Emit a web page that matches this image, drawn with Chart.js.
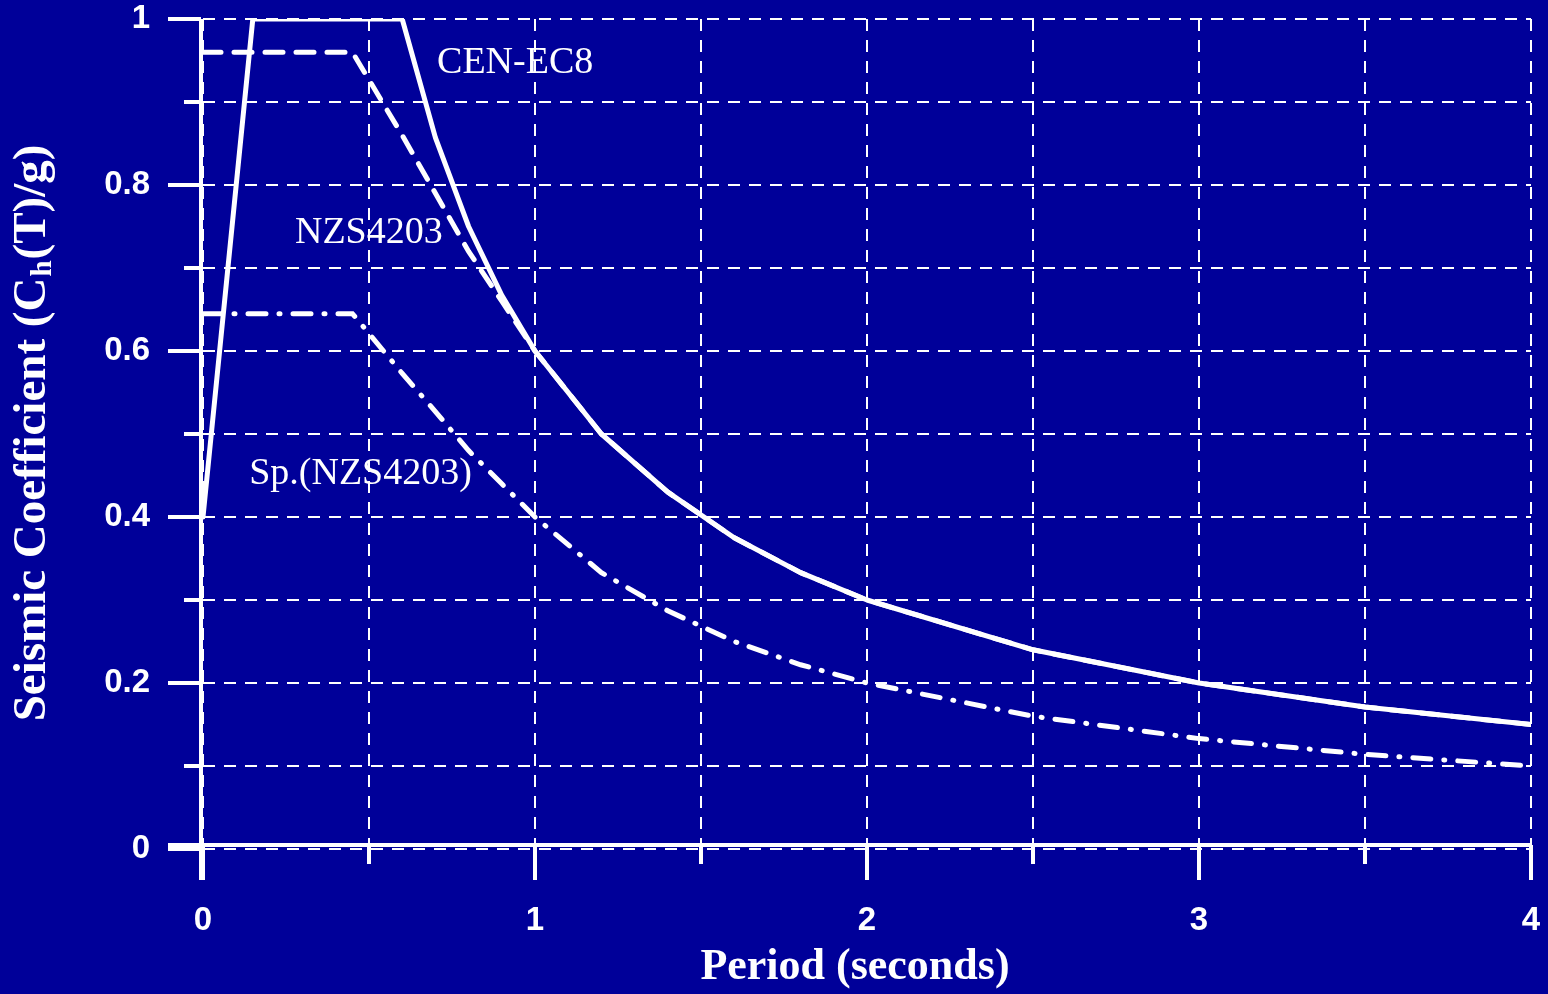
<!DOCTYPE html>
<html>
<head>
<meta charset="utf-8">
<script src="https://cdn.jsdelivr.net/npm/chart.js@4.4.1/dist/chart.umd.min.js"></script>
<style>
  html, body { margin: 0; padding: 0; background: #000099; }
  #wrap { width: 1548px; height: 994px; }
</style>
</head>
<body>
<div id="wrap"><canvas id="grafico"></canvas></div>
<script>
// periodo (s) e coeficiente sismico
const periodosCen = [0, 0.15, 0.6, 0.7, 0.8, 0.9, 1.0, 1.2, 1.4, 1.6, 1.8, 2.0, 2.5, 3.0, 3.5, 4.0];
const valoresCen = [0.4, 1.0, 1.0, 0.857, 0.75, 0.667, 0.6, 0.5, 0.43, 0.375, 0.333, 0.3, 0.24, 0.2, 0.171, 0.15];

const periodosNzs = [0, 0.45, 0.6, 0.7, 0.8, 0.9, 1.0, 1.2, 1.4, 1.6, 1.8, 2.0, 2.5, 3.0, 3.5, 4.0];
const valoresNzs = [0.96, 0.96, 0.86, 0.79, 0.72, 0.66, 0.6, 0.5, 0.43, 0.375, 0.333, 0.3, 0.24, 0.2, 0.171, 0.15];

const periodosSp = [0, 0.45, 0.6, 0.7, 0.8, 0.9, 1.0, 1.2, 1.4, 1.6, 1.8, 2.0, 2.5, 3.0, 3.5, 4.0];
const valoresSp = [0.645, 0.645, 0.573, 0.527, 0.48, 0.44, 0.4, 0.333, 0.287, 0.25, 0.222, 0.2, 0.16, 0.133, 0.114, 0.1];

const rotulos = ['CEN-EC8', 'NZS4203', 'Sp.(NZS4203)'];
const rotulosX = [0.705, 0.277, 0.139];
const rotulosY = [0.947, 0.742, 0.452];

const tituloX = 'Period (seconds)';
const tituloY = ['Seismic Coefficient (C', 'h', '(T)/g)'];

const BRANCO = '#ffffff';
const FUNDO = '#000099';

function pontos(xs, ys) {
    return xs.map((x, i) => ({ x: x, y: ys[i] }));
}

const pluginDesenho = {
    id: 'desenho',
    beforeDraw(chart) {
        const ctx = chart.ctx;
        ctx.save();
        ctx.fillStyle = FUNDO;
        ctx.fillRect(0, 0, chart.width, chart.height);
        ctx.restore();
    },
    afterDraw(chart) {
        const ctx = chart.ctx;
        const sx = chart.scales.x;
        const sy = chart.scales.y;
        const area = chart.chartArea;
        ctx.save();
        ctx.strokeStyle = BRANCO;
        ctx.fillStyle = BRANCO;

        // eixos solidos
        ctx.lineWidth = 4;
        ctx.beginPath();
        ctx.moveTo(area.left - 2, area.top);
        ctx.lineTo(area.left - 2, area.bottom + 31);
        ctx.moveTo(area.left - 35, area.bottom - 4);
        ctx.lineTo(area.right, area.bottom - 4);
        ctx.stroke();

        // marcas do eixo x
        for (let v = 0; v <= 4.001; v += 0.5) {
            const px = sx.getPixelForValue(v);
            const inteiro = Math.abs(v - Math.round(v)) < 1e-6;
            ctx.beginPath();
            ctx.moveTo(px, area.bottom - 4);
            ctx.lineTo(px, area.bottom + (inteiro ? 31 : 15));
            ctx.stroke();
        }
        // marcas do eixo y
        for (let v = 0; v <= 1.001; v += 0.1) {
            const py = sy.getPixelForValue(v);
            const maior = Math.abs(v * 5 - Math.round(v * 5)) < 1e-6;
            ctx.beginPath();
            ctx.moveTo(area.left - 2, py);
            ctx.lineTo(area.left - (maior ? 35 : 19), py);
            ctx.stroke();
        }

        // rotulos das curvas
        ctx.font = '38px "Liberation Serif", serif';
        ctx.textAlign = 'left';
        ctx.textBaseline = 'middle';
        rotulos.forEach((txt, i) => {
            ctx.fillText(txt, sx.getPixelForValue(rotulosX[i]), sy.getPixelForValue(rotulosY[i]));
        });

        // titulo x
        ctx.font = 'bold 44px "Liberation Serif", serif';
        ctx.textAlign = 'center';
        ctx.textBaseline = 'middle';
        ctx.fillText(tituloX, (area.left + area.right) / 2 - 12, 968);

        // titulo y com subscrito
        const fonteY = 'bold 47px "Liberation Serif", serif';
        const fonteSub = 'bold 29px "Liberation Serif", serif';
        ctx.font = fonteY;
        const w1 = ctx.measureText(tituloY[0]).width;
        const w3 = ctx.measureText(tituloY[2]).width;
        ctx.font = fonteSub;
        const w2 = ctx.measureText(tituloY[1]).width;
        const total = w1 + w2 + w3;
        ctx.translate(33, (area.top + area.bottom) / 2);
        ctx.rotate(-Math.PI / 2);
        ctx.textAlign = 'left';
        ctx.textBaseline = 'middle';
        let pos = -total / 2;
        ctx.font = fonteY;
        ctx.fillText(tituloY[0], pos, 0);
        pos += w1 + 1;
        ctx.font = fonteSub;
        ctx.fillText(tituloY[1], pos, 11);
        pos += w2 + 1;
        ctx.font = fonteY;
        ctx.fillText(tituloY[2], pos, 0);
        ctx.restore();
    }
};

const grade = {
    color: BRANCO,
    lineWidth: 2,
    drawTicks: false
};

new Chart(document.getElementById('grafico'), {
    type: 'scatter',
    data: {
        datasets: [
            {
                label: 'CEN-EC8',
                data: pontos(periodosCen, valoresCen),
                showLine: true,
                borderColor: BRANCO,
                borderWidth: 5,
                pointRadius: 0,
                borderCapStyle: 'round',
                borderJoinStyle: 'round'
            },
            {
                label: 'NZS4203',
                data: pontos(periodosNzs, valoresNzs),
                showLine: true,
                borderColor: BRANCO,
                borderWidth: 5,
                borderDash: [18, 13],
                pointRadius: 0,
                borderCapStyle: 'round'
            },
            {
                label: 'Sp.(NZS4203)',
                data: pontos(periodosSp, valoresSp),
                showLine: true,
                borderColor: BRANCO,
                borderWidth: 5,
                borderDash: [18, 13, 1, 13],
                pointRadius: 0,
                borderCapStyle: 'round'
            }
        ]
    },
    options: {
        responsive: true,
        maintainAspectRatio: false,
        animation: false,
        layout: { padding: { top: 19, right: 17, left: 0, bottom: 0 } },
        plugins: {
            legend: { display: false },
            tooltip: { enabled: false }
        },
        scales: {
            x: {
                type: 'linear',
                min: 0,
                max: 4,
                grid: grade,
                border: { display: false, dash: [12, 9] },
                afterFit: (scale) => {
                    scale.height = 145;
                    scale.paddingLeft = 0;
                    scale.paddingRight = 0;
                },
                ticks: {
                    stepSize: 0.5,
                    color: BRANCO,
                    padding: 52,
                    maxRotation: 0,
                    font: { family: '"Liberation Sans", Arial, sans-serif', size: 33, weight: 'bold' },
                    callback: (v) => Math.abs(v - Math.round(v)) < 1e-6 ? String(Math.round(v)) : ''
                }
            },
            y: {
                type: 'linear',
                min: 0,
                max: 1,
                grid: grade,
                border: { display: false, dash: [12, 9] },
                afterFit: (scale) => {
                    scale.width = 203;
                    scale.paddingTop = 0;
                    scale.paddingBottom = 0;
                },
                ticks: {
                    stepSize: 0.1,
                    color: BRANCO,
                    padding: 53,
                    font: { family: '"Liberation Sans", Arial, sans-serif', size: 33, weight: 'bold' },
                    callback: (v) => Math.abs(v * 5 - Math.round(v * 5)) < 1e-6 ? String(Math.round(v * 10) / 10) : ''
                }
            }
        }
    },
    plugins: [pluginDesenho]
});
</script>
</body>
</html>
